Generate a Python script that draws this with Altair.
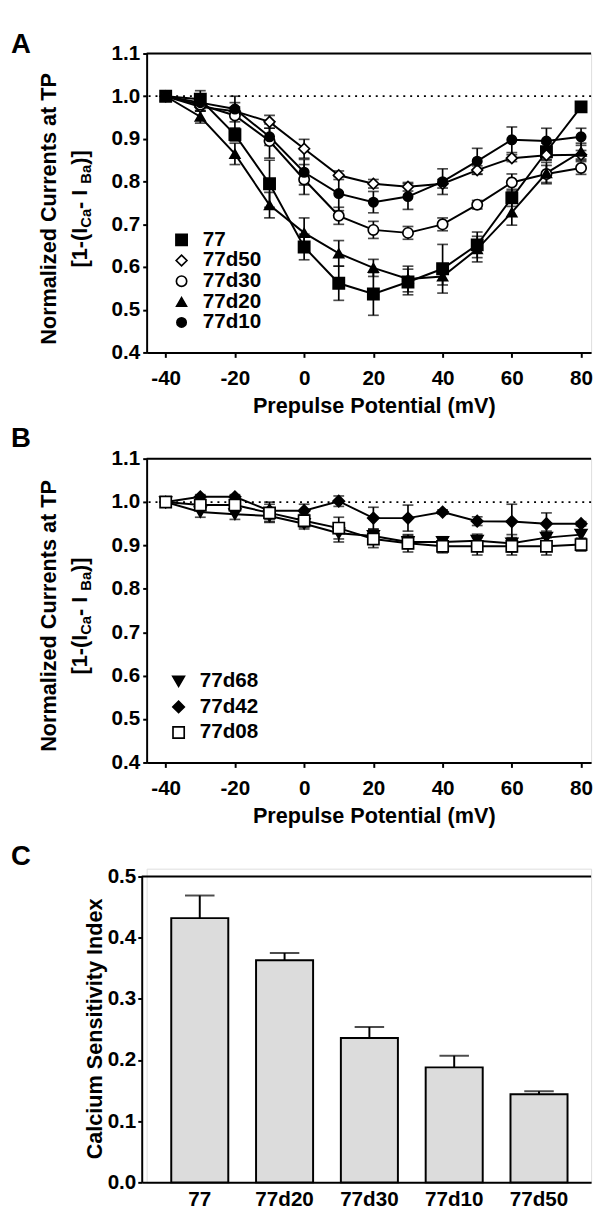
import altair as alt
import pandas as pd

FONT = "Liberation Sans"

# ---------------- data ----------------
volts = [-40, -30, -20, -10, 0, 10, 20, 30, 40, 50, 60, 70, 80]

a_names = ["77", "77d50", "77d30", "77d20", "77d10"]
a_77 = [1.000, 0.993, 0.910, 0.795, 0.647, 0.562, 0.537, 0.565, 0.596, 0.652, 0.762, 0.870, 0.975]
a_77_err = [0.004, 0.020, 0.015, 0.055, 0.030, 0.040, 0.050, 0.030, 0.057, 0.030, 0.020, 0.020, 0.010]
a_77d50 = [1.000, 0.975, 0.965, 0.940, 0.877, 0.815, 0.795, 0.788, 0.795, 0.827, 0.855, 0.862, 0.863]
a_77d50_err = [0.003, 0.010, 0.010, 0.015, 0.022, 0.010, 0.010, 0.010, 0.010, 0.010, 0.008, 0.010, 0.010]
a_77d30 = [1.000, 0.980, 0.955, 0.895, 0.805, 0.720, 0.687, 0.680, 0.700, 0.746, 0.798, 0.818, 0.832]
a_77d30_err = [0.003, 0.015, 0.030, 0.040, 0.035, 0.020, 0.020, 0.015, 0.015, 0.010, 0.020, 0.020, 0.015]
a_77d20 = [1.000, 0.952, 0.865, 0.745, 0.680, 0.632, 0.598, 0.572, 0.578, 0.642, 0.728, 0.820, 0.870]
a_77d20_err = [0.003, 0.015, 0.025, 0.030, 0.035, 0.030, 0.020, 0.030, 0.020, 0.030, 0.030, 0.025, 0.020]
a_77d10 = [1.000, 0.985, 0.970, 0.905, 0.822, 0.772, 0.752, 0.765, 0.800, 0.848, 0.898, 0.895, 0.905]
a_77d10_err = [0.003, 0.010, 0.030, 0.020, 0.030, 0.040, 0.025, 0.030, 0.030, 0.030, 0.030, 0.030, 0.020]

b_names = ["77d68", "77d42", "77d08"]
b_77d68 = [1.000, 0.977, 0.972, 0.968, 0.950, 0.928, 0.922, 0.908, 0.908, 0.911, 0.905, 0.918, 0.925]
b_77d68_err = [0.003, 0.012, 0.012, 0.015, 0.012, 0.020, 0.015, 0.015, 0.012, 0.015, 0.020, 0.015, 0.010]
b_77d42 = [1.000, 1.012, 1.012, 0.980, 0.980, 1.002, 0.963, 0.963, 0.977, 0.956, 0.955, 0.950, 0.950]
b_77d42_err = [0.003, 0.005, 0.005, 0.020, 0.015, 0.012, 0.025, 0.030, 0.005, 0.010, 0.040, 0.025, 0.005]
b_77d08 = [1.000, 0.993, 0.993, 0.975, 0.957, 0.940, 0.915, 0.905, 0.898, 0.898, 0.898, 0.898, 0.902]
b_77d08_err = [0.003, 0.008, 0.010, 0.020, 0.015, 0.025, 0.020, 0.020, 0.015, 0.020, 0.020, 0.020, 0.015]

c_names = ["77", "77d20", "77d30", "77d10", "77d50"]
c_vals = [0.432, 0.363, 0.236, 0.188, 0.144]
c_err = [0.037, 0.012, 0.018, 0.019, 0.005]

x_ticks = [-40, -20, 0, 20, 40, 60, 80]
y_ticks_ab = [0.4, 0.5, 0.6, 0.7, 0.8, 0.9, 1.0, 1.1]
y_ticks_c = [0.0, 0.1, 0.2, 0.3, 0.4, 0.5]

# ---------------- layout constants ----------------
W = 452
LBL = 21
TTL = 22
ARIAL_BOLD = {"[": 333, "1": 556, "-": 333, "(": 333, "I": 278, "C": 722, "a": 556,
              "\u00a0": 278, "B": 722, ")": 333, "]": 333}

one = pd.DataFrame({"k": [0]})


def txt(text, x, y, size, angle=0, align="left", baseline="alphabetic"):
    kw = dict(font=FONT, fontSize=size, fontWeight="bold", color="black",
              align=align, baseline=baseline)
    if angle:
        kw["angle"] = angle
    return alt.Chart(one).mark_text(**kw).encode(
        x=alt.value(x), y=alt.value(y), text=alt.value(text))


def ytitle_ab(center_y):
    layers = [txt("Normalized Currents at TP", -99.5, center_y, TTL, 270, "center", "middle")]
    pieces = [("[1-(I", TTL, False), ("Ca", 15, True), ("\u00a0-\u00a0I", TTL, False),
              ("Ba", 15, True), (")]", TTL, False)]
    widths = [sum(ARIAL_BOLD[c] for c in p) / 1000.0 * s for p, s, _ in pieces]
    total = sum(widths)
    pos = center_y + total / 2.0
    for (p, s, sub), w in zip(pieces, widths):
        layers.append(txt(p, -62.0 if sub else -68.0, pos, s, 270, "left", "middle"))
        pos -= w
    return layers


def xy_panel(names, vals, errs, shapes, fills, sizes, height, letter, letter_y,
             leg_x, leg_y, row_pad, title_y):
    rows = []
    for n, vs, es in zip(names, vals, errs):
        for v, val, e in zip(volts, vs, es):
            rows.append({"series": n, "mv": v, "val": val, "lo": val - e, "hi": val + e})
    df = pd.DataFrame(rows)

    xsc = alt.Scale(domain=[-45.5, 82.9], nice=False, zero=False)
    ysc = alt.Scale(domain=[0.4, 1.1], nice=False, zero=False)
    xaxis = alt.Axis(values=x_ticks, labelExpr="toString(datum.value)",
                     title="Prepulse Potential (mV)", titleX=231, titleY=61,
                     titleAlign="center", titleBaseline="alphabetic", titleFont=FONT,
                     titleFontSize=TTL, titleFontWeight="bold", titleColor="black",
                     labelFont=FONT, labelFontSize=LBL, labelFontWeight="bold", labelColor="black",
                     labelPadding=11, labelFlush=False, labelOverlap=False,
                     tickSize=5, tickWidth=2, tickColor="black",
                     domainColor="black", domainWidth=2, grid=False)
    yaxis = alt.Axis(values=y_ticks_ab, format=".1f", title=None,
                     labelFont=FONT, labelFontSize=LBL, labelFontWeight="bold", labelColor="black",
                     labelPadding=3, labelFlush=False, labelOverlap=False,
                     tickSize=4, tickWidth=2, tickColor="black",
                     domainColor="black", domainWidth=2, grid=False)
    X = alt.X("mv:Q", scale=xsc, axis=xaxis)

    def Y(f):
        return alt.Y(f, scale=ysc, axis=yaxis)

    base = alt.Chart(df)
    top = alt.Chart(one).mark_rule(color="black", strokeWidth=2).encode(
        x=alt.value(0), x2=alt.value(W), y=alt.value(0))
    dotted = alt.Chart(one).mark_rule(color="black", strokeWidth=1.8, strokeDash=[2, 5]).encode(
        y=alt.datum(1.0))
    lines = base.mark_line(color="black", strokeWidth=2).encode(
        x=X, y=Y("val:Q"), detail="series:N", order="mv:Q")
    ebar = base.mark_rule(color="black", strokeWidth=1.7).encode(x=X, y=Y("lo:Q"), y2="hi:Q")
    cap_lo = base.mark_tick(color="black", thickness=1.7, size=11, orient="horizontal").encode(
        x=X, y=Y("lo:Q"))
    cap_hi = base.mark_tick(color="black", thickness=1.7, size=11, orient="horizontal").encode(
        x=X, y=Y("hi:Q"))
    legend = alt.Legend(orient="none", legendX=leg_x, legendY=leg_y, title=None,
                        labelFont=FONT, labelFontSize=LBL, labelFontWeight="bold",
                        labelColor="black", labelOffset=11, rowPadding=row_pad,
                        symbolStrokeWidth=1.7, symbolOpacity=1)
    pts = base.mark_point(strokeWidth=1.7, opacity=1, fillOpacity=1).encode(
        x=X, y=Y("val:Q"),
        shape=alt.Shape("series:N", scale=alt.Scale(domain=names, range=shapes), legend=legend),
        fill=alt.Fill("series:N", scale=alt.Scale(domain=names, range=fills), legend=legend),
        stroke=alt.Stroke("series:N", scale=alt.Scale(domain=names, range=["black"] * len(names)),
                          legend=legend),
        size=alt.Size("series:N", scale=alt.Scale(domain=names, range=sizes), legend=legend),
    )
    layers = [top, dotted, lines, ebar, cap_lo, cap_hi, pts,
              txt(letter, -138, letter_y, 28)] + ytitle_ab(title_y)
    return alt.layer(*layers).properties(width=W, height=height)


panel_a = xy_panel(
    a_names,
    [a_77, a_77d50, a_77d30, a_77d20, a_77d10],
    [a_77_err, a_77d50_err, a_77d30_err, a_77d20_err, a_77d10_err],
    ["square", "diamond", "circle", "triangle-up", "circle"],
    ["black", "white", "white", "black", "black"],
    [130, 90, 120, 140, 125],
    304, "A", -1, 25, 179, -2.5, 158)

panel_b = xy_panel(
    b_names,
    [b_77d68, b_77d42, b_77d08],
    [b_77d68_err, b_77d42_err, b_77d08_err],
    ["triangle-down", "diamond", "square"],
    ["black", "black", "white"],
    [140, 130, 120],
    309, "B", -12, 22, 216, 4, 160)

# ---------------- panel C ----------------
dfc = pd.DataFrame({"name": c_names, "val": c_vals,
                    "hi": [v + e for v, e in zip(c_vals, c_err)]})
xc = alt.X("name:N", sort=c_names,
           scale=alt.Scale(range=[-5, W], paddingInner=0.3275, paddingOuter=0.313, align=0.556),
           axis=alt.Axis(title=None, labelAngle=0, ticks=False, labelPadding=7,
                         labelFont=FONT, labelFontSize=LBL, labelFontWeight="bold", labelColor="black",
                         domainColor="black", domainWidth=2, grid=False))
ysc_c = alt.Scale(domain=[0, 0.5], range=[319, 8], nice=False, zero=True)
yaxis_c = alt.Axis(values=y_ticks_c, format=".1f", title=None, offset=5,
                   labelFont=FONT, labelFontSize=LBL, labelFontWeight="bold", labelColor="black",
                   labelPadding=2, labelFlush=False, labelOverlap=False,
                   tickSize=4, tickWidth=2, tickColor="black",
                   domainColor="black", domainWidth=2, grid=False)

bars = alt.Chart(dfc).mark_bar(fill="#dcdcdc", stroke="black", strokeWidth=2).encode(
    x=xc, y=alt.Y("val:Q", scale=ysc_c, axis=yaxis_c))
c_rule = alt.Chart(dfc).mark_rule(color="black", strokeWidth=2).encode(
    x=xc, y=alt.Y("val:Q", scale=ysc_c, axis=yaxis_c), y2="hi:Q")
c_cap = alt.Chart(dfc).mark_tick(color="black", thickness=2, size=30, orient="horizontal").encode(
    x=xc, y=alt.Y("hi:Q", scale=ysc_c, axis=yaxis_c))
c_top = alt.Chart(one).mark_rule(color="black", strokeWidth=2).encode(
    x=alt.value(-5), x2=alt.value(W), y=alt.value(8))

panel_c = alt.layer(
    c_top, bars, c_rule, c_cap,
    txt("C", -138, -4, 28),
    txt("Calcium Sensitivity Index", -52, 163, TTL, 270, "center", "middle"),
).properties(width=W, height=319)

chart = alt.vconcat(panel_a, panel_b, panel_c, spacing=108, bounds="flush").resolve_scale(
    shape="independent", fill="independent", stroke="independent", size="independent"
).resolve_legend(
    shape="independent", fill="independent", stroke="independent", size="independent"
).properties(
    padding={"left": 2, "top": 12, "right": 0, "bottom": 0}
).configure_view(stroke=None).configure(font=FONT)

chart.save("out.html", embed_options={"renderer": "svg", "actions": False})
